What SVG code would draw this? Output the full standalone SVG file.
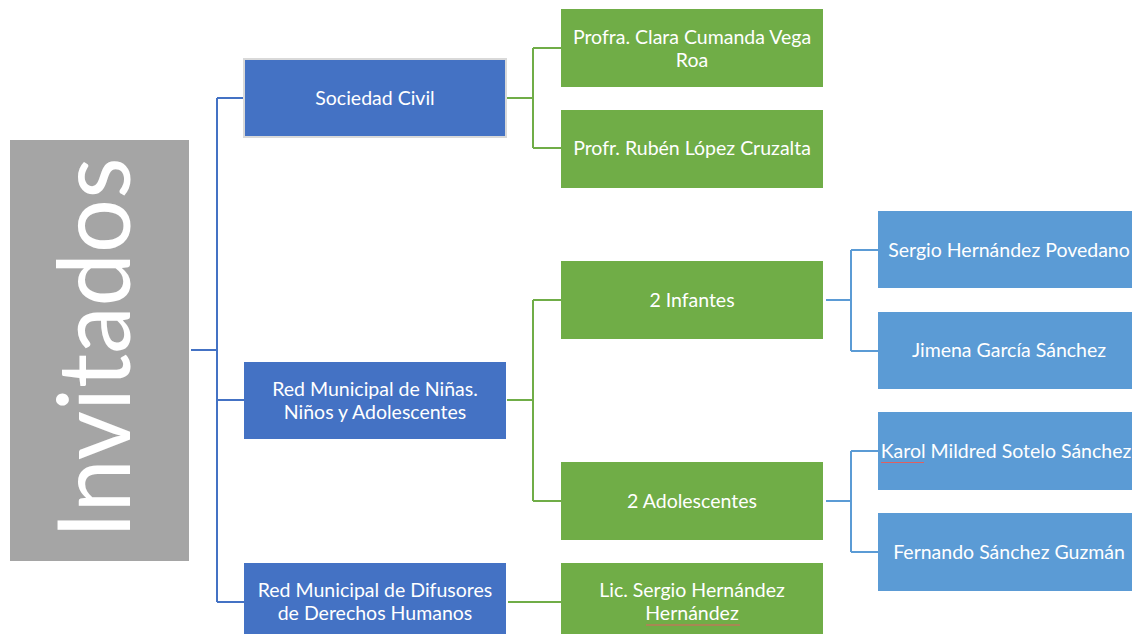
<svg xmlns="http://www.w3.org/2000/svg" width="1132" height="634" viewBox="0 0 1132 634">
<style>
.t{font-family:Lato,"Open Sans","Liberation Sans",sans-serif;font-size:19.5px;fill:#fff;text-anchor:middle}
.big{font-family:Lato,"Open Sans","Liberation Sans",sans-serif;font-weight:400;font-size:100px;fill:#fff;text-anchor:middle}
.b1{fill:#4472C4}
.g{fill:#70AD47}
.b2{fill:#5B9BD5}
.lb{stroke:#4472C4;stroke-width:2;fill:none}
.lg{stroke:#70AD47;stroke-width:2;fill:none}
.ll{stroke:#5B9BD5;stroke-width:2;fill:none}
.sp{stroke:#E06060;stroke-width:1;fill:none}
</style>
<rect width="1132" height="634" fill="#fff"/>
<g id="connectors">
<path class="lb" d="M191 350H217M217 98V602M217 98H243M217 400H244M217 602H244"/>
<path class="lg" d="M507 98H533M533 48V148M533 48H561M533 148H561"/>
<path class="lg" d="M507 400H533M533 300V501M533 300H561M533 501H561"/>
<path class="lg" d="M508 602H561"/>
<path class="ll" d="M826 300H851M851 250V351M851 250H878M851 351H878"/>
<path class="ll" d="M826 501H851M851 451V552M851 451H878M851 552H878"/>
</g>
<g id="invitados">
<rect x="10" y="140" width="179" height="421" fill="#A5A5A5"/>
<text class="big" transform="translate(130,348) rotate(-90)" x="0" y="0" textLength="381" lengthAdjust="spacingAndGlyphs">Invitados</text>
</g>
<g id="sociedad-civil">
<rect x="244" y="59" width="262" height="78" class="b1" stroke="#D9D9D9" stroke-width="2"/>
<text class="t" x="375" y="105">Sociedad Civil</text>
</g>
<g id="clara">
<rect x="561" y="9" width="262" height="78" class="g"/>
<text class="t" x="692" y="44">Profra. Clara Cumanda Vega</text>
<text class="t" x="692" y="67">Roa</text>
</g>
<g id="ruben">
<rect x="561" y="110" width="262" height="78" class="g"/>
<text class="t" x="692" y="155">Profr. Rubén López Cruzalta</text>
</g>
<g id="red-ninas">
<rect x="244" y="362" width="262" height="77" class="b1"/>
<text class="t" x="375" y="396">Red Municipal de Niñas.</text>
<text class="t" x="375" y="419">Niños y Adolescentes</text>
</g>
<g id="infantes">
<rect x="561" y="261" width="262" height="78" class="g"/>
<text class="t" x="692" y="307">2 Infantes</text>
</g>
<g id="adolescentes">
<rect x="561" y="462" width="262" height="78" class="g"/>
<text class="t" x="692" y="508">2 Adolescentes</text>
</g>
<g id="sergio-p">
<rect x="878" y="211" width="262" height="77" class="b2"/>
<text class="t" x="1009" y="257">Sergio Hernández Povedano</text>
</g>
<g id="jimena">
<rect x="878" y="312" width="262" height="77" class="b2"/>
<text class="t" x="1009" y="357">Jimena García Sánchez</text>
</g>
<g id="karol">
<rect x="878" y="412" width="262" height="78" class="b2"/>
<text class="t" x="1006" y="458">Karol Mildred Sotelo Sánchez</text>
<path class="sp" d="M881 462.5H924"/>
</g>
<g id="fernando">
<rect x="878" y="513" width="262" height="78" class="b2"/>
<text class="t" x="1009" y="559">Fernando Sánchez Guzmán</text>
</g>
<g id="red-difusores">
<rect x="244" y="563" width="262" height="78" class="b1"/>
<text class="t" x="375" y="597">Red Municipal de Difusores</text>
<text class="t" x="375" y="620">de Derechos Humanos</text>
</g>
<g id="lic-sergio">
<rect x="561" y="563" width="262" height="78" class="g"/>
<text class="t" x="692" y="597">Lic. Sergio Hernández</text>
<text class="t" x="692" y="620">Hernández</text>
<path class="sp" d="M646 625H740"/>
</g>
</svg>
